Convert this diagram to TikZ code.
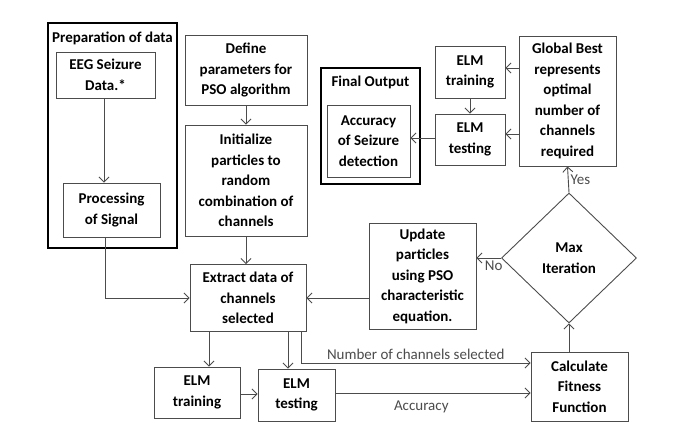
\documentclass[tikz,border=0pt]{standalone}
\usepackage{fontspec}
\setmainfont{Carlito}
\usepackage{tikz}
\usetikzlibrary{shapes.geometric,arrows.meta,positioning}

\begin{document}
\begin{tikzpicture}[x=1pt, y=-1pt,
    box/.style={shape=rectangle, draw=black!70, line width=0.9pt, align=center, inner sep=1pt,
      font=\fontsize{15}{20.5}\selectfont\bfseries},
    frame/.style={shape=rectangle, draw=black, line width=2.6pt, inner sep=0pt},
    title/.style={font=\fontsize{15}{20.5}\selectfont\bfseries, inner sep=0pt},
    lbl/.style={font=\fontsize{15}{18}\selectfont, text=black!70, inner sep=1pt},
    arr/.style={draw=black!70, line width=0.9pt, -{Straight Barb[length=5pt,width=10pt]}}]
    \useasboundingbox[fill=white] (0,0) rectangle (680,442);

    % preparation of data
    \node[frame, minimum width=129, minimum height=225] (prep) at (112.5,135.5) {};
    \node[title] (preptitle) at (112.5,38) {Preparation of data};
    \node[box, minimum width=99, minimum height=46] (eeg) at (105.5,75) {EEG Seizure\\Data.*};
    \node[box, minimum width=97, minimum height=54] (proc) at (111.5,210) {Processing\\of Signal};

    % PSO set up
    \node[box, minimum width=122, minimum height=70] (define) at (246,70) {Define\\parameters for\\PSO algorithm};
    \node[box, minimum width=122, minimum height=111] (init) at (246,180.5) {Initialize\\particles to\\random\\combination of\\channels};
    \node[box, minimum width=116, minimum height=67] (extract) at (248,298) {Extract data of\\channels\\selected};
    \node[box, minimum width=86, minimum height=51] (trainb) at (197,392.5) {ELM\\training};
    \node[box, minimum width=77, minimum height=52] (testb) at (296.5,395) {ELM\\testing};
    \node[box, minimum width=97, minimum height=69] (calc) at (579.5,386.5) {Calculate\\Fitness\\Function};
    \node[box, minimum width=107, minimum height=106] (update) at (422.5,276) {Update\\particles\\using PSO\\characteristic\\equation.};
    \node[box, shape=diamond, inner sep=0pt, minimum width=135, minimum height=130] (maxit) at (569,258) {Max\\Iteration};

    % final stage
    \node[box, minimum width=97, minimum height=130] (glob) at (567.5,101) {Global Best\\represents\\optimal\\number of\\channels\\required};
    \node[box, minimum width=70, minimum height=52] (traint) at (470,72) {ELM\\training};
    \node[box, minimum width=70, minimum height=51] (testt) at (470,139.5) {ELM\\testing};
    \node[frame, minimum width=99, minimum height=116] (final) at (370.5,126) {};
    \node[title] (finaltitle) at (370.5,82) {Final Output};
    \node[box, minimum width=83, minimum height=72] (acc) at (368.5,141) {Accuracy\\of Seizure\\detection};

    % connectors
    \draw[arr] (eeg.south -| 104,0) -- (proc.north -| 104,0);
    \draw[arr] (proc.south -| 105,0) |- (extract.west);
    \draw[arr] (define.south) -- (init.north);
    \draw[arr] (init.south) -- (init.south |- extract.north);
    \draw[arr] (extract.south -| 209,0) -- (trainb.north -| 209,0);
    \draw[arr] (extract.south -| 288,0) -- (testb.north -| 288,0);
    \draw[arr] (extract.south -| 301,0) |- ([yshift=23.5]calc.west)
      node[lbl, pos=0.75, above=2pt] {Number of channels selected};
    \draw[arr] (trainb.east |- 0,394) -- (testb.west |- 0,394);
    \draw[arr] (testb.east |- 0,393) -- (calc.west |- 0,393)
      node[lbl, pos=0.44, below=6pt] {Accuracy};
    \draw[arr] (calc.north -| maxit.south) -- (maxit.south);
    \draw[arr] (maxit.west) -- (maxit.west -| update.east)
      node[lbl, pos=0.3, below=1pt] {No};
    \draw[arr] (update.west |- extract.east) -- (extract.east);
    \draw[arr] (maxit.north) -- (glob.south)
      node[lbl, midway, right=1pt] {Yes};
    \draw[arr] (glob.west |- 0,68) -- (traint.east |- 0,68);
    \draw[arr] (glob.west |- 0,134) -- (testt.east |- 0,134);
    \draw[arr] (traint.south) -- (testt.north);
    \draw[arr] (testt.west |- 0,138) -- (acc.east |- 0,138);
  \end{tikzpicture}
\end{document}
